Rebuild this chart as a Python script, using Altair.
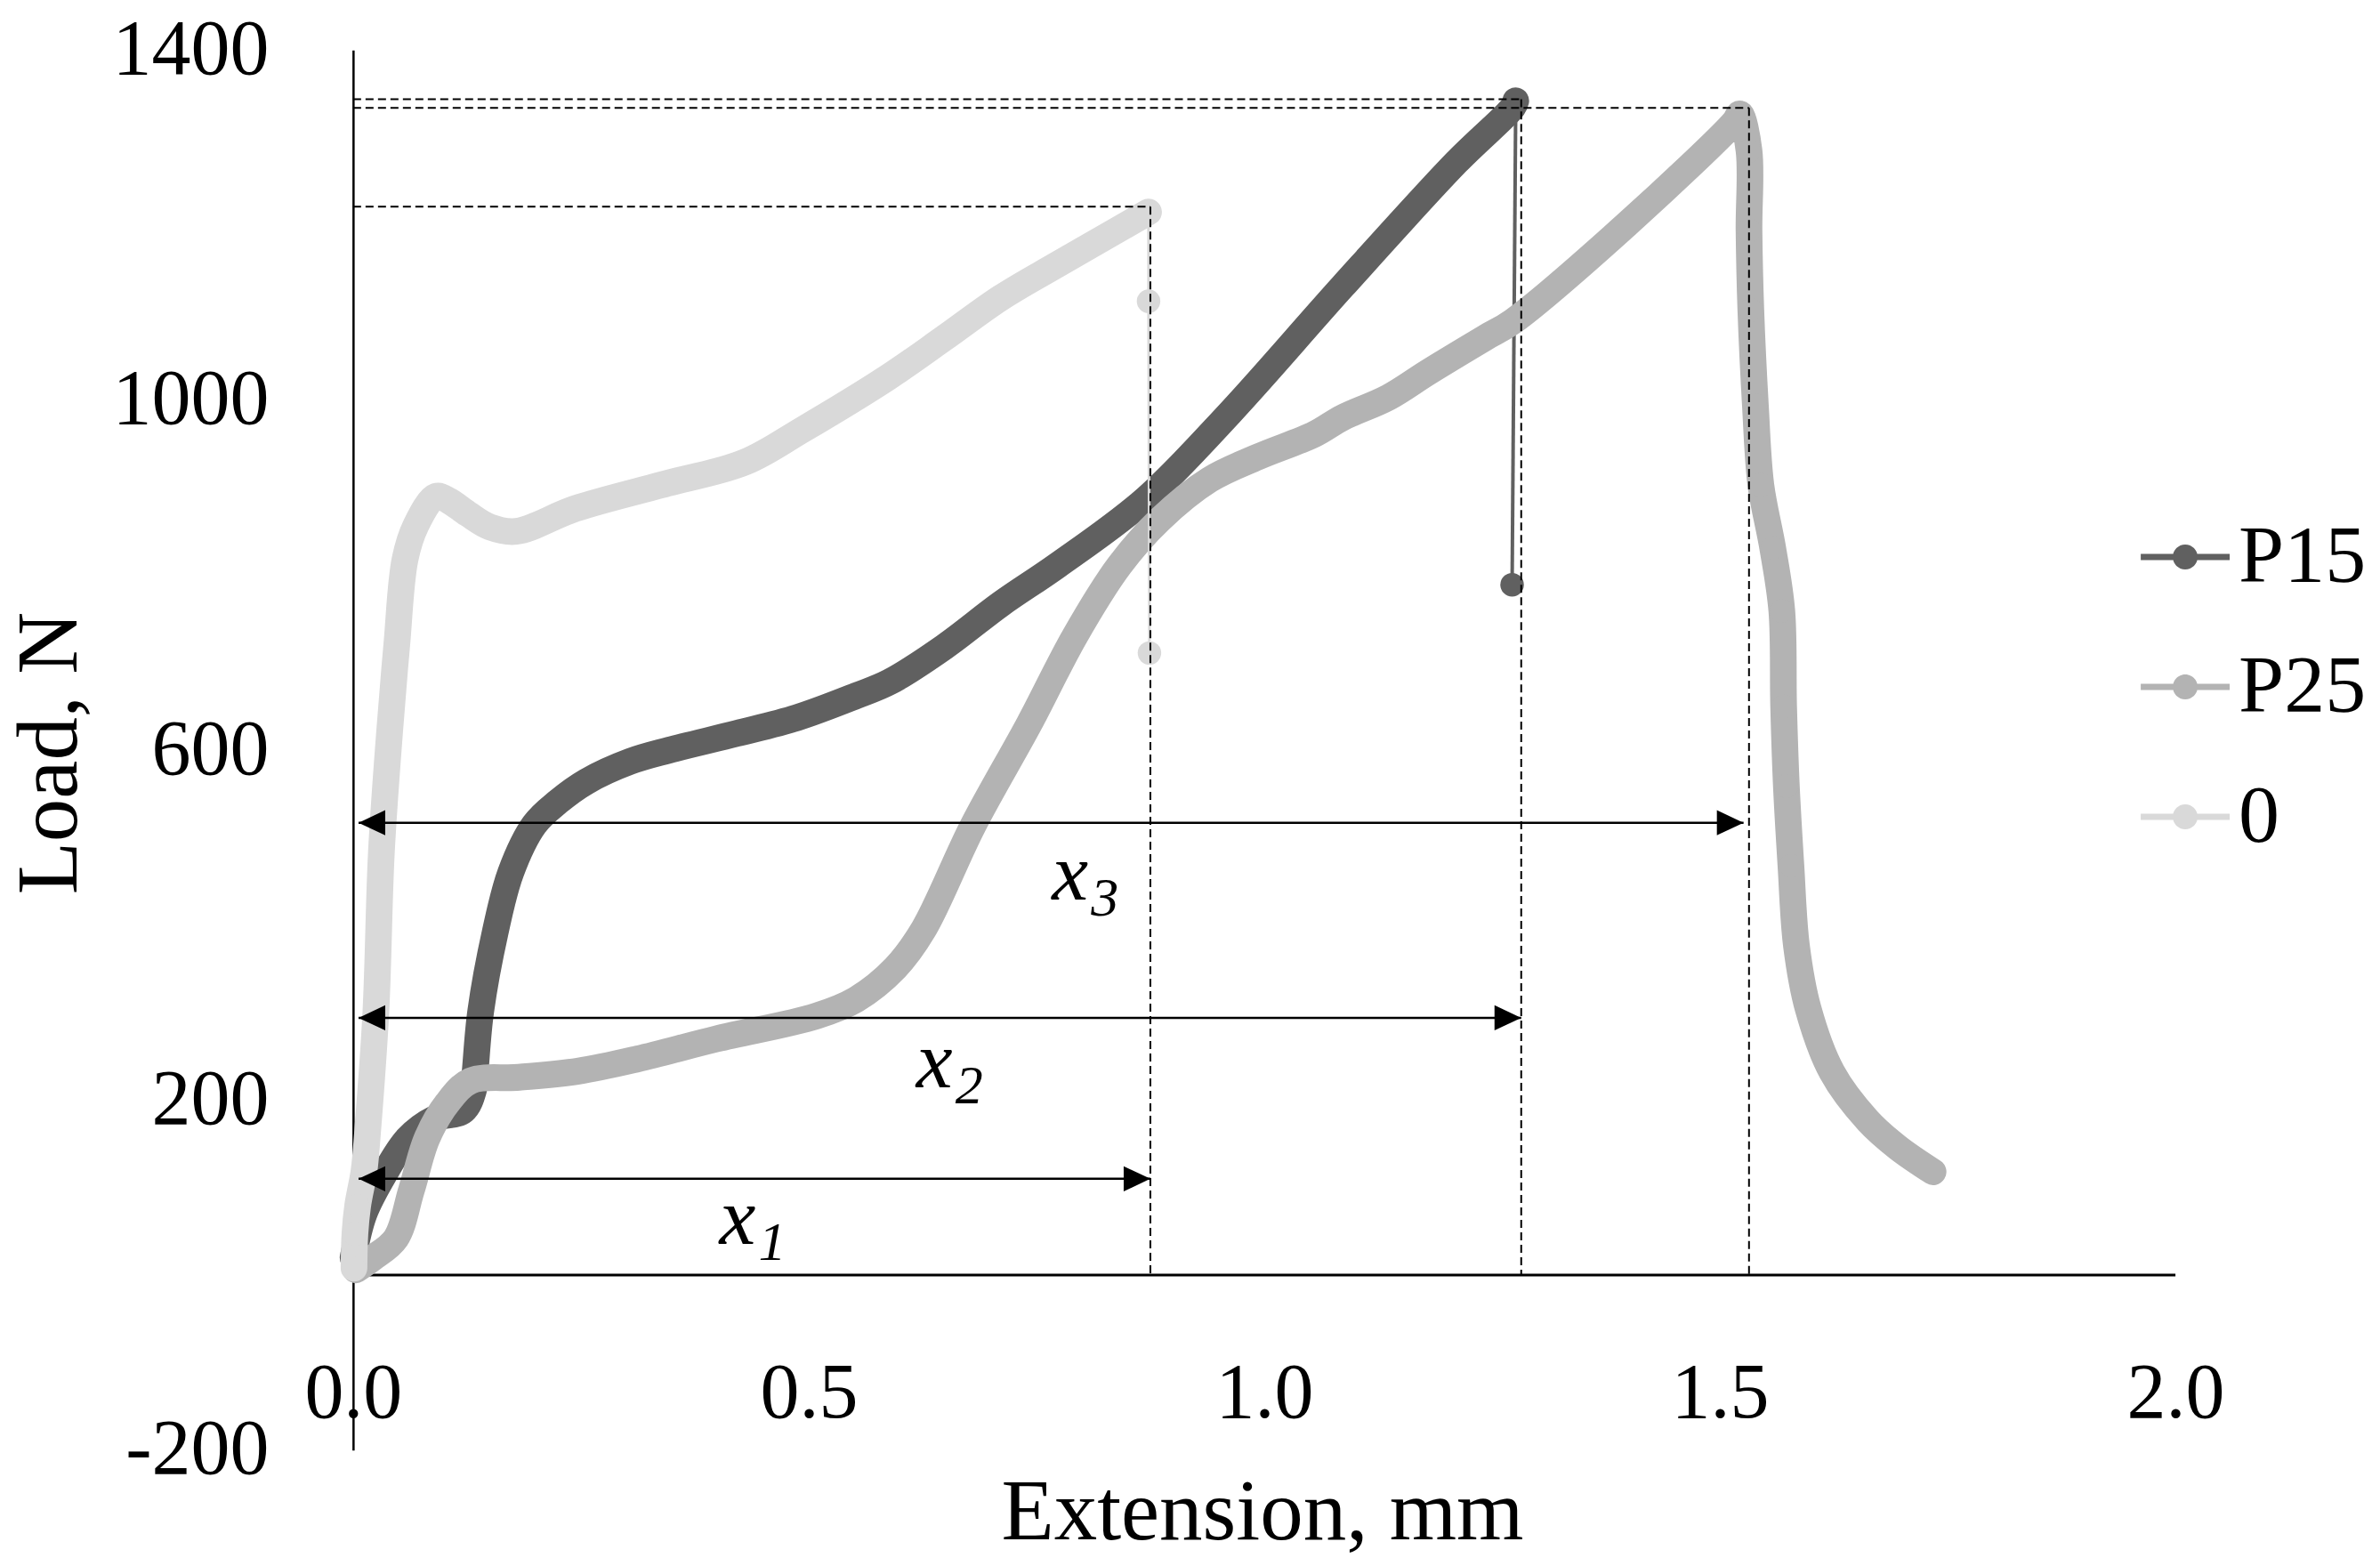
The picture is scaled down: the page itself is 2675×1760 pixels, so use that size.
import altair as alt
import pandas as pd

# ---------------- data ----------------
SERIES = ["P15", "P25", "0"]
COLORS = ["#606060", "#b3b3b3", "#d9d9d9"]

# P15 (dark) main curve
p15_ext = [0.000, 0.012, 0.034, 0.060, 0.090, 0.121, 0.132, 0.134, 0.140, 0.156,
           0.173, 0.199, 0.225, 0.256, 0.304, 0.347, 0.421, 0.487, 0.552, 0.589,
           0.649, 0.711, 0.773, 0.869, 0.962, 1.086, 1.211, 1.273, 1.276]
p15_load = [20, 70, 115, 156, 179, 188, 211, 233, 301, 392,
            460, 515, 541, 564, 587, 600, 619, 637, 662, 678,
            718, 767, 811, 886, 985, 1130, 1272, 1335, 1342]
# P15 failure drop (thin line + marker)
p15_tail_ext = [1.276, 1.272]
p15_tail_load = [1342, 789]

# P25 (mid grey) main curve incl. post-peak descent
p25_ext = [0.003, 0.021, 0.047, 0.064, 0.081, 0.103, 0.129, 0.182, 0.247, 0.312,
           0.399, 0.508, 0.552, 0.595, 0.626, 0.680, 0.742, 0.792, 0.841, 0.885,
           0.940, 0.993, 1.055, 1.086, 1.136, 1.180, 1.242, 1.273, 1.398, 1.516,
           1.522, 1.532, 1.532, 1.534, 1.539, 1.545, 1.558, 1.568, 1.570, 1.573,
           1.578, 1.584, 1.597, 1.623, 1.662, 1.695, 1.734]
p25_load = [6, 19, 42, 97, 156, 196, 222, 226, 233, 247,
            270, 296, 315, 351, 395, 513, 630, 730, 811, 863,
            909, 935, 961, 980, 1003, 1032, 1071, 1090, 1201, 1318,
            1327, 1285, 1194, 1103, 994, 903, 831, 759, 650, 559,
            468, 377, 304, 232, 177, 146, 118]
# beads visible on the P25 descent
p25_mark_ext = [1.532, 1.532, 1.534, 1.539, 1.545, 1.558, 1.568, 1.570, 1.573, 1.578]
p25_mark_load = [1285, 1194, 1103, 994, 903, 831, 759, 650, 559, 468]

# "0" (light grey) main curve
s0_ext = [0.001, 0.002, 0.005, 0.012, 0.016, 0.025, 0.031, 0.040, 0.048, 0.057,
          0.069, 0.091, 0.105, 0.126, 0.150, 0.179, 0.244, 0.338, 0.430, 0.493,
          0.587, 0.649, 0.711, 0.773, 0.860, 0.873]
s0_load = [8, 47, 79, 119, 165, 301, 482, 620, 721, 818,
           857, 890, 885, 870, 855, 850, 876, 903, 929, 966,
           1026, 1071, 1117, 1155, 1207, 1215]
s0_tail_ext = [0.873, 0.873, 0.874]
s0_tail_load = [1215, 1113, 711]
s0_mark_ext = [0.001, 0.002, 0.005, 0.873, 0.874]
s0_mark_load = [8, 47, 79, 1113, 711]

# peak guide lines (dashed): peak extension and peak load per series
peak_ext = [1.282, 1.532, 0.875]
peak_load = [1344, 1334, 1221]

# dimension arrows x1, x2, x3
arrow_start = [0.006, 0.006, 0.006]
arrow_end = [0.875, 1.282, 1.526]
arrow_load = [110, 294, 517]
arrow_sub = ["1", "2", "3"]
label_ext = [0.402, 0.618, 0.767]
label_load = [36, 215, 429]

x_ticks = [0.0, 0.5, 1.0, 1.5, 2.0]
y_ticks = [-200, 200, 600, 1000, 1400]

# ---------------- tables ----------------
def frame(name, xs, ys):
    return pd.DataFrame({"series": name, "ext": xs, "load": ys, "i": range(len(xs))})

main = {"P15": frame("P15", p15_ext, p15_load),
        "P25": frame("P25", p25_ext, p25_load),
        "0": frame("0", s0_ext, s0_load)}
tails = {"P15": frame("P15", p15_tail_ext, p15_tail_load),
         "0": frame("0", s0_tail_ext, s0_tail_load)}
marks = {"P15": frame("P15", p15_tail_ext[1:], p15_tail_load[1:]),
         "P25": frame("P25", p25_mark_ext, p25_mark_load),
         "0": frame("0", s0_mark_ext, s0_mark_load)}

guides = []
for px, py in zip(peak_ext, peak_load):
    guides.append({"x": 0.0, "x2": px, "y": py, "y2": py})
    guides.append({"x": px, "x2": px, "y": py, "y2": 0.0})
guides = pd.DataFrame(guides)

arrows = pd.DataFrame({"x": arrow_start, "x2": arrow_end, "y": arrow_load})
labels = pd.DataFrame({"x": label_ext, "y": label_load, "t": ["x"] * 3, "sub": arrow_sub})
axis_line = pd.DataFrame({"x": [0.0], "x2": [2.0], "y": [0.0]})

# ---------------- encodings ----------------
FONT = "Liberation Serif"
xscale = alt.Scale(domain=[0, 2], nice=False, zero=False)
yscale = alt.Scale(domain=[-200, 1400], nice=False, zero=False)

xaxis = alt.Axis(values=x_ticks, format=".1f", domain=False, ticks=False, tickSize=0,
                 grid=False, labelFont=FONT, labelFontSize=88, labelColor="black",
                 labelPadding=-37, labelBaseline="alphabetic", labelFlush=False,
                 labelOverlap=False, labelLimit=400, title="Extension, mm", titleFont=FONT,
                 titleFontSize=97, titleFontWeight="normal", titleColor="black",
                 titleX=1022, titleY=100, titleBaseline="alphabetic", titleAlign="center")
yaxis = alt.Axis(values=y_ticks, labelExpr="datum.value + ''", domain=True,
                 domainColor="black", domainWidth=2.5,
                 ticks=False, tickSize=0, grid=False, labelFont=FONT, labelFontSize=88,
                 labelColor="black", labelPadding=95, labelFlush=False, labelOverlap=False,
                 labelLimit=400, title="Load, N", titleFont=FONT, titleFontSize=97,
                 titleFontWeight="normal", titleColor="black", titleX=-340, titleY=790,
                 titleAngle=-90, titleBaseline="middle", titleAlign="center")

X = lambda f="ext": alt.X(f"{f}:Q", scale=xscale, axis=xaxis)
Y = lambda f="load": alt.Y(f"{f}:Q", scale=yscale, axis=yaxis)

LEG_PATH = ("M-1,-0.07L1,-0.07L1,0.07L-1,0.07Z "
            "M0.28,0A0.28,0.28 0 1,1 -0.28,0A0.28,0.28 0 1,1 0.28,0Z")
legend = alt.Legend(title=None, orient="none", legendX=2010, legendY=520,
                    symbolType=LEG_PATH, symbolSize=10000, symbolStrokeWidth=0,
                    symbolOpacity=1, labelFont=FONT, labelFontSize=92,
                    labelColor="black", labelOffset=10, rowPadding=50, padding=0)
cscale = alt.Scale(domain=SERIES, range=COLORS)

layers = []
layers.append(alt.Chart(axis_line).mark_rule(color="black", strokeWidth=3).encode(
    x=X("x"), x2="x2:Q", y=Y("y")))

for s, col in zip(SERIES, COLORS):
    layers.append(alt.Chart(main[s]).mark_line(
        color=col, strokeWidth=30, strokeCap="round", strokeJoin="round",
        interpolate="catmull-rom").encode(x=X(), y=Y(), order="i:Q"))
    if s in tails:
        layers.append(alt.Chart(tails[s]).mark_line(
            color=col, strokeWidth=4 if s == "P15" else 3).encode(
            x=X(), y=Y(), order="i:Q"))
    layers.append(alt.Chart(marks[s]).mark_point(
        filled=True, opacity=1, size=700, shape="circle", strokeWidth=0).encode(
        x=X(), y=Y(),
        color=alt.Color("series:N", scale=cscale, legend=legend)))

layers.append(alt.Chart(guides).mark_rule(
    color="black", strokeWidth=2, strokeDash=[9, 5]).encode(
    x=X("x"), x2="x2:Q", y=Y("y"), y2="y2:Q"))

layers.append(alt.Chart(arrows).mark_rule(color="black", strokeWidth=2.5).encode(
    x=X("x"), x2="x2:Q", y=Y("y")))
layers.append(alt.Chart(arrows).mark_point(
    shape="M0,0L1,-0.47L1,0.47Z", size=3600, filled=True, opacity=1,
    color="black", strokeWidth=0).encode(x=X("x"), y=Y("y")))
layers.append(alt.Chart(arrows).mark_point(
    shape="M0,0L-1,-0.47L-1,0.47Z", size=3600, filled=True, opacity=1,
    color="black", strokeWidth=0).encode(x=X("x2"), y=Y("y")))

layers.append(alt.Chart(labels).mark_text(
    font=FONT, fontStyle="italic", fontSize=92, align="left",
    baseline="alphabetic", color="black").encode(x=X("x"), y=Y("y"), text="t:N"))
layers.append(alt.Chart(labels).mark_text(
    font=FONT, fontStyle="italic", fontSize=62, align="left",
    baseline="alphabetic", color="black", dx=44, dy=18).encode(
    x=X("x"), y=Y("y"), text="sub:N"))

chart = alt.layer(*layers).properties(
    width=2049, height=1574,
    autosize=alt.AutoSizeParams(type="none"),
    padding={"left": 389, "top": 48, "right": 222, "bottom": 120},
    background="white",
).configure_view(stroke=None)

chart.save("out.html", embed_options={"renderer": "svg", "actions": False})
